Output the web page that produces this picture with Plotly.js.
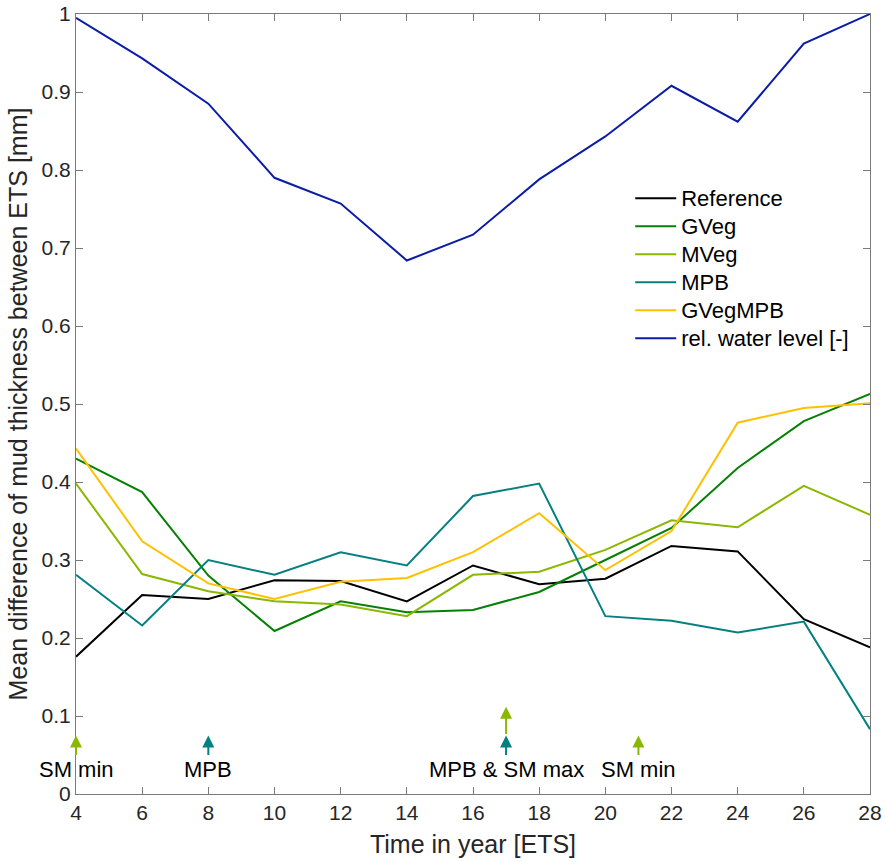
<!DOCTYPE html>
<html>
<head>
<meta charset="utf-8">
<script src="https://cdn.plot.ly/plotly-3.0.1.min.js"></script>
<style>html,body{margin:0;padding:0;background:#fff;}#chart{width:886px;height:862px;}</style>
</head>
<body>
<div id="chart"></div>
<script>
const time = [4, 6, 8, 10, 12, 14, 16, 18, 20, 22, 24, 26, 28];
const reference = [0.176, 0.255, 0.250, 0.274, 0.273, 0.247, 0.293, 0.269, 0.276, 0.318, 0.311, 0.224, 0.188];
const gveg      = [0.430, 0.387, 0.280, 0.209, 0.247, 0.233, 0.236, 0.259, 0.300, 0.341, 0.418, 0.478, 0.513];
const mveg      = [0.398, 0.282, 0.260, 0.247, 0.243, 0.228, 0.281, 0.285, 0.313, 0.351, 0.342, 0.395, 0.358];
const mpb       = [0.281, 0.216, 0.300, 0.281, 0.310, 0.293, 0.382, 0.398, 0.228, 0.222, 0.207, 0.221, 0.083];
const gvegmpb   = [0.443, 0.324, 0.270, 0.250, 0.272, 0.277, 0.310, 0.360, 0.287, 0.337, 0.476, 0.495, 0.501];
const waterLevel= [0.995, 0.943, 0.885, 0.790, 0.757, 0.684, 0.717, 0.788, 0.843, 0.908, 0.862, 0.962, 1.000];

const seriesNames = ['Reference', 'GVeg', 'MVeg', 'MPB', 'GVegMPB', 'rel. water level [-]'];
const seriesColors = ['#000000', '#058005', '#8ab800', '#058080', '#ffc000', '#0a1ca8'];
const seriesData = [reference, gveg, mveg, mpb, gvegmpb, waterLevel];

// event arrows
const arrowX    = [4, 8, 17, 17, 21];
const arrowBase = [0.048, 0.048, 0.075, 0.048, 0.048];
const arrowTip  = [0.075, 0.075, 0.112, 0.075, 0.075];
const arrowColors = ['#8ab800', '#058080', '#8ab800', '#058080', '#8ab800'];

// event labels
const labelX = [4, 8, 17, 21];
const labelY = [0.032, 0.032, 0.032, 0.032];
const labelText = ['SM min', 'MPB', 'MPB &amp; SM max', 'SM min'];

const yTicks = [0, 0.1, 0.2, 0.3, 0.4, 0.5, 0.6, 0.7, 0.8, 0.9, 1];
const yTickText = ['0', '0.1', '0.2', '0.3', '0.4', '0.5', '0.6', '0.7', '0.8', '0.9', '1'];
const xTicks = [4, 6, 8, 10, 12, 14, 16, 18, 20, 22, 24, 26, 28];

const FONT = 'Liberation Sans, Arial, Helvetica, sans-serif';
const TXT = '#262626';
const AX = '#7a7a7a';

const traces = seriesData.map((d, i) => ({
  x: time, y: d, type: 'scatter', mode: 'lines',
  name: '<span style="font-size:22px">' + seriesNames[i] + '</span>',
  line: {color: seriesColors[i], width: 2}, cliponaxis: true
}));

const annotations = [];
arrowX.forEach((x, i) => {
  annotations.push({
    x: x, y: arrowTip[i], ax: x, ay: arrowBase[i], xref: 'x', yref: 'y', axref: 'x', ayref: 'y',
    showarrow: true, arrowhead: 2, arrowsize: 1.2, arrowwidth: 2, arrowcolor: arrowColors[i], text: ''
  });
});
labelX.forEach((x, i) => {
  annotations.push({
    x: x, y: labelY[i], xref: 'x', yref: 'y', text: labelText[i], showarrow: false,
    xanchor: 'center', yanchor: 'middle', font: {family: FONT, size: 22, color: '#000'}
  });
});

const layout = {
  width: 886, height: 862,
  margin: {l: 76, r: 16, t: 14, b: 68, pad: 0},
  paper_bgcolor: '#fff', plot_bgcolor: '#fff',
  showlegend: true,
  legend: {x: 0.698, y: 0.788, xanchor: 'left', yanchor: 'top', bgcolor: 'rgba(0,0,0,0)',
    borderwidth: 0, itemwidth: 41, font: {family: FONT, size: 19.2, color: '#000'}},
  xaxis: {
    range: [4, 28], tickvals: xTicks, ticks: 'inside', ticklen: 7, tickcolor: AX, tickwidth: 1,
    showline: true, linecolor: AX, linewidth: 1, mirror: 'ticks', showgrid: false, zeroline: false,
    tickfont: {family: FONT, size: 21, color: TXT},
    title: {text: 'Time in year [ETS]', font: {family: FONT, size: 25, color: TXT}, standoff: 12}
  },
  yaxis: {
    range: [0, 1], tickvals: yTicks, ticktext: yTickText, ticks: 'inside', ticklen: 7, tickcolor: AX, tickwidth: 1,
    showline: true, linecolor: AX, linewidth: 1, mirror: 'ticks', showgrid: false, zeroline: false,
    tickfont: {family: FONT, size: 21, color: TXT},
    title: {text: 'Mean difference of mud thickness between ETS [mm]', font: {family: FONT, size: 25, color: TXT}, standoff: 6}
  },
  annotations: annotations
};

Plotly.newPlot('chart', traces, layout, {displayModeBar: false, staticPlot: true});
</script>
</body>
</html>
